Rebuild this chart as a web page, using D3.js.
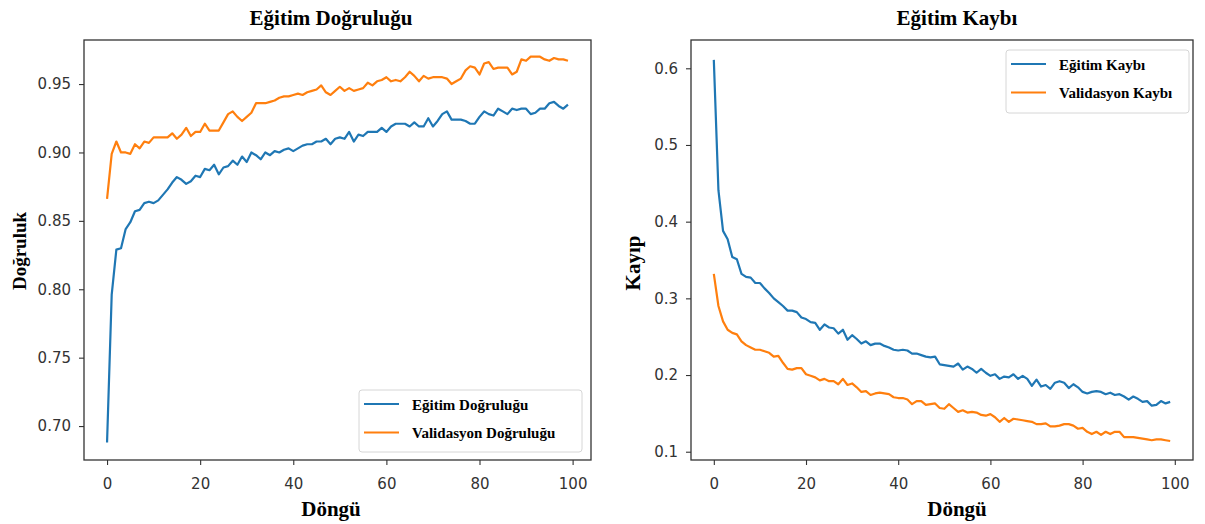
<!DOCTYPE html>
<html lang="tr">
<head>
<meta charset="UTF-8">
<title>Eğitim Doğruluğu / Eğitim Kaybı</title>
<style>
  body { margin: 0; padding: 0; background: #fff; }
  svg { display: block; }
  .tick text { font-family: 'DejaVu Sans', sans-serif; font-size: 15px; fill: #333; }
  .tick line { stroke: #333; stroke-width: 1.1; }
  .serif { font-family: 'Liberation Serif', 'Times New Roman', serif; font-weight: bold; fill: #000; }
</style>
</head>
<body>
<svg width="1205" height="524"></svg>
<script src="https://d3js.org/d3.v7.min.js"></script>
<script>
// x ticks shared by both panels
const xTicks = [0, 20, 40, 60, 80, 100];
const accTicks = [0.70, 0.75, 0.80, 0.85, 0.90, 0.95];
const lossTicks = [0.1, 0.2, 0.3, 0.4, 0.5, 0.6];

// epoch-wise values (epoch = index)
const trainAcc = [
  0.688, 0.796, 0.829, 0.830, 0.844, 0.849, 0.857, 0.858, 0.863, 0.864,
  0.863, 0.865, 0.869, 0.873, 0.878, 0.882, 0.880, 0.877, 0.879, 0.883,
  0.882, 0.888, 0.887, 0.891, 0.884, 0.889, 0.890, 0.894, 0.891, 0.897,
  0.893, 0.900, 0.898, 0.895, 0.900, 0.898, 0.901, 0.900, 0.902, 0.903,
  0.901, 0.903, 0.905, 0.906, 0.906, 0.908, 0.908, 0.910, 0.906, 0.910,
  0.911, 0.910, 0.915, 0.908, 0.913, 0.912, 0.915, 0.915, 0.915, 0.918,
  0.915, 0.919, 0.921, 0.921, 0.921, 0.919, 0.922, 0.919, 0.919, 0.925,
  0.919, 0.923, 0.928, 0.930, 0.924, 0.924, 0.924, 0.923, 0.921, 0.921,
  0.926, 0.930, 0.928, 0.927, 0.932, 0.930, 0.928, 0.932, 0.931, 0.932,
  0.932, 0.928, 0.929, 0.932, 0.932, 0.936, 0.937, 0.934, 0.932, 0.935
];
const valAcc = [
  0.866, 0.899, 0.908, 0.900, 0.900, 0.899, 0.906, 0.903, 0.908, 0.907,
  0.911, 0.911, 0.911, 0.911, 0.914, 0.910, 0.913, 0.918, 0.912, 0.915,
  0.915, 0.921, 0.916, 0.916, 0.916, 0.922, 0.928, 0.930, 0.926, 0.923,
  0.926, 0.929, 0.936, 0.936, 0.936, 0.937, 0.938, 0.940, 0.941, 0.941,
  0.942, 0.943, 0.942, 0.944, 0.945, 0.946, 0.949, 0.944, 0.942, 0.945,
  0.948, 0.945, 0.947, 0.945, 0.946, 0.947, 0.951, 0.949, 0.952, 0.953,
  0.955, 0.952, 0.953, 0.952, 0.955, 0.959, 0.956, 0.952, 0.956, 0.954,
  0.955, 0.955, 0.955, 0.954, 0.950, 0.952, 0.954, 0.960, 0.963, 0.962,
  0.957, 0.965, 0.966, 0.961, 0.962, 0.962, 0.962, 0.957, 0.959, 0.968,
  0.967, 0.970, 0.970, 0.970, 0.968, 0.967, 0.969, 0.968, 0.968, 0.967
];
const trainLoss = [
  0.611, 0.441, 0.388, 0.377, 0.354, 0.351, 0.332, 0.328, 0.327, 0.320,
  0.320, 0.313, 0.307, 0.300, 0.295, 0.290, 0.284, 0.284, 0.282, 0.275,
  0.273, 0.269, 0.268, 0.259, 0.266, 0.262, 0.261, 0.254, 0.259, 0.246,
  0.252, 0.247, 0.241, 0.244, 0.239, 0.241, 0.241, 0.238, 0.236, 0.233,
  0.232, 0.233, 0.232, 0.228, 0.228, 0.226, 0.224, 0.223, 0.224, 0.214,
  0.213, 0.212, 0.211, 0.215, 0.207, 0.211, 0.208, 0.203, 0.208, 0.203,
  0.199, 0.201, 0.195, 0.198, 0.197, 0.201, 0.195, 0.199, 0.195, 0.186,
  0.194, 0.185, 0.187, 0.182, 0.190, 0.192, 0.190, 0.183, 0.188, 0.184,
  0.178, 0.176, 0.178, 0.179, 0.178, 0.175, 0.177, 0.174, 0.175, 0.172,
  0.168, 0.172, 0.169, 0.165, 0.166, 0.160, 0.161, 0.166, 0.163, 0.165
];
const valLoss = [
  0.332, 0.290, 0.270, 0.259, 0.255, 0.253, 0.244, 0.239, 0.236, 0.233,
  0.233, 0.231, 0.229, 0.224, 0.225, 0.216, 0.208, 0.207, 0.209, 0.209,
  0.201, 0.199, 0.197, 0.193, 0.195, 0.192, 0.192, 0.188, 0.195, 0.187,
  0.189, 0.184, 0.178, 0.179, 0.174, 0.176, 0.177, 0.176, 0.175, 0.171,
  0.170, 0.170, 0.168, 0.162, 0.166, 0.166, 0.161, 0.162, 0.163, 0.157,
  0.156, 0.162, 0.157, 0.152, 0.154, 0.151, 0.152, 0.151, 0.148, 0.147,
  0.149, 0.145, 0.139, 0.144, 0.139, 0.143, 0.142, 0.141, 0.140, 0.139,
  0.136, 0.136, 0.137, 0.133, 0.133, 0.134, 0.136, 0.136, 0.134, 0.130,
  0.131, 0.126, 0.123, 0.126, 0.122, 0.126, 0.123, 0.126, 0.126, 0.119,
  0.119, 0.119, 0.118, 0.117, 0.116, 0.115, 0.116, 0.116, 0.115, 0.114
];

const blue = "#1f77b4", orange = "#ff7f0e";
const svg = d3.select("svg");

// one panel = frame, axes, two lines, legend
function drawPanel(p) {
  const g = svg.append("g");
  const x = d3.scaleLinear().domain([-4.95, 103.95]).range([p.left, p.right]);
  const y = d3.scaleLinear().domain(p.yDomain).range([p.bottom, p.top]);

  g.append("g")
    .attr("transform", `translate(0,${p.bottom})`)
    .call(d3.axisBottom(x).tickValues(xTicks).tickFormat(d3.format("d")).tickSize(5).tickPadding(13))
    .call(a => a.select(".domain").remove());

  g.append("g")
    .attr("transform", `translate(${p.left},0)`)
    .call(d3.axisLeft(y).tickValues(p.yTicks).tickFormat(d3.format(p.fmt)).tickSize(5).tickPadding(8))
    .call(a => a.select(".domain").remove());

  const line = d3.line().x((d, i) => x(i)).y(d => y(d));
  p.series.forEach(s => {
    g.append("path")
      .datum(s.values)
      .attr("fill", "none")
      .attr("stroke", s.color)
      .attr("stroke-width", 2.2)
      .attr("stroke-linejoin", "round")
      .attr("d", line);
  });

  g.append("rect")
    .attr("x", p.left).attr("y", p.top)
    .attr("width", p.right - p.left).attr("height", p.bottom - p.top)
    .attr("fill", "none").attr("stroke", "#333").attr("stroke-width", 1.3);

  g.append("text").attr("class", "serif")
    .attr("x", p.titleX).attr("y", 25)
    .attr("text-anchor", "middle").attr("font-size", 21)
    .text(p.title);

  g.append("text").attr("class", "serif")
    .attr("x", p.titleX).attr("y", 516)
    .attr("text-anchor", "middle").attr("font-size", 21)
    .text("Döngü");

  g.append("text").attr("class", "serif")
    .attr("transform", `translate(${p.yLab[0]},${p.yLab[1]}) rotate(-90)`)
    .attr("text-anchor", "middle").attr("font-size", p.yLabSize)
    .text(p.yLabel);

  // legend
  const L = p.legend;
  const lg = g.append("g").attr("transform", `translate(${L.x},${L.y})`);
  lg.append("rect")
    .attr("width", L.w).attr("height", L.h).attr("rx", 3)
    .attr("fill", "#fff").attr("fill-opacity", 0.85)
    .attr("stroke", "#d6d6d6").attr("stroke-width", 1);
  p.series.forEach((s, i) => {
    const yy = 14 + i * 28.5;
    lg.append("line")
      .attr("x1", 5).attr("x2", 40).attr("y1", yy).attr("y2", yy)
      .attr("stroke", s.color).attr("stroke-width", 2.2);
    lg.append("text").attr("class", "serif")
      .attr("x", 53).attr("y", yy + 5.5).attr("font-size", 15)
      .text(s.name);
  });
}

drawPanel({
  left: 84, right: 591, top: 40, bottom: 460,
  yDomain: [0.6752, 0.9822], yTicks: accTicks, fmt: ".2f",
  title: "Eğitim Doğruluğu", titleX: 331,
  yLabel: "Doğruluk", yLab: [26, 251], yLabSize: 19,
  series: [
    { name: "Eğitim Doğruluğu", values: trainAcc, color: blue },
    { name: "Validasyon Doğruluğu", values: valAcc, color: orange }
  ],
  legend: { x: 359, y: 390, w: 223, h: 62 }
});

drawPanel({
  left: 691, right: 1193, top: 40, bottom: 460,
  yDomain: [0.0892, 0.6369], yTicks: lossTicks, fmt: ".1f",
  title: "Eğitim Kaybı", titleX: 957,
  yLabel: "Kayıp", yLab: [640, 263], yLabSize: 21,
  series: [
    { name: "Eğitim Kaybı", values: trainLoss, color: blue },
    { name: "Validasyon Kaybı", values: valLoss, color: orange }
  ],
  legend: { x: 1006, y: 50, w: 183, h: 63 }
});
</script>
</body>
</html>
